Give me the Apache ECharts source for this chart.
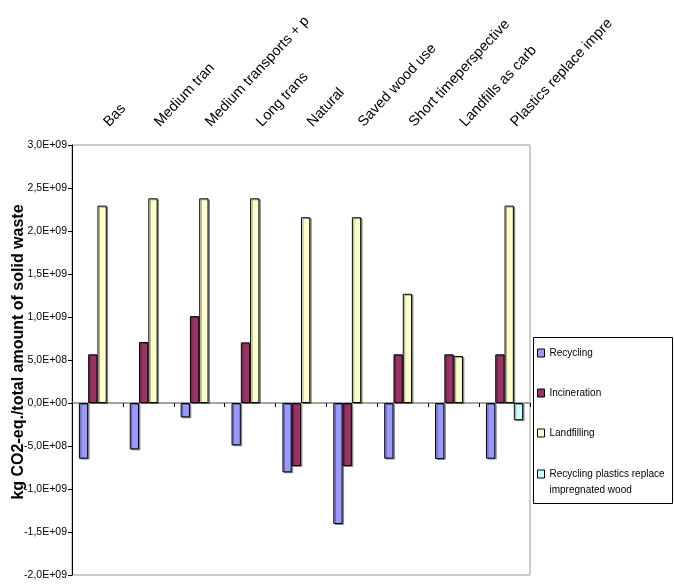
<!DOCTYPE html>
<html>
<head>
<meta charset="utf-8">
<script src="https://cdn.jsdelivr.net/npm/echarts@6/dist/echarts.min.js"></script>
<style>
  html, body { margin: 0; padding: 0; background: #fff; }
  #chart { width: 674px; height: 586px; }
</style>
</head>
<body>
<div id="chart"></div>
<script>
// Scenario labels shown along the top of the plot
const categories = [
  'Bas', 'Medium tran', 'Medium transports + p', 'Long trans', 'Natural',
  'Saved wood use', 'Short timeperspective', 'Landfills as carb', 'Plastics replace impre'
];

// kg CO2-eq. per total amount of solid waste
const recycling = [-6.47e8, -5.39e8, -1.67e8, -4.92e8, -8.06e8, -1.407e9, -6.47e8, -6.51e8, -6.47e8];
const incineration = [5.66e8, 7.09e8, 1.01e9, 7.05e8, -7.33e8, -7.33e8, 5.66e8, 5.66e8, 5.66e8];
const landfilling = [2.295e9, 2.38e9, 2.38e9, 2.38e9, 2.16e9, 2.16e9, 1.27e9, 5.47e8, 2.295e9];
const recyclingPlastics = [null, null, null, null, null, null, null, null, -2.0e8];

const seriesNames = ['Recycling', 'Incineration', 'Landfilling', 'Recycling plastics replace impregnated wood'];
const seriesColors = ['#9999FF', '#993366', '#FFFFCC', '#CCFFFF'];

const FONT = "'Liberation Sans', Arial, sans-serif";

// "3,0E+09" style labels with a comma as decimal separator
function sci(v) {
  if (v === 0) return '0,0E+00';
  const a = Math.abs(v);
  const e = Math.floor(Math.log10(a) + 1e-9);
  const m = v / Math.pow(10, e);
  const s = m.toFixed(1).replace('.', ',');
  const es = (e < 0 ? '-' : '+') + String(Math.abs(e)).padStart(2, '0');
  return s + 'E' + es;
}

const chart = echarts.init(document.getElementById('chart'), null, { renderer: 'canvas' });

const barStyle = (color) => ({
  color: color,
  borderColor: '#000',
  borderWidth: 1,
  shadowColor: 'rgba(0,0,0,0.35)',
  shadowOffsetX: 1.5,
  shadowOffsetY: 1,
  shadowBlur: 0
});

const dataSets = [recycling, incineration, landfilling, recyclingPlastics];

const legendItemStyle = { borderColor: '#000', borderWidth: 1, shadowColor: 'transparent' };
const legendText = { fontFamily: FONT, fontSize: 10, color: '#000' };

const option = {
  backgroundColor: '#fff',
  animation: false,
  textStyle: { fontFamily: FONT },
  grid: {
    left: 72, top: 145, right: 144, bottom: 11,
    outerBoundsMode: 'none',
    containLabel: false,
    show: true, borderColor: '#999', borderWidth: 1, backgroundColor: 'transparent'
  },
  // Frame around both legend blocks
  graphic: [{
    type: 'rect',
    left: 533, top: 337,
    shape: { width: 139, height: 166 },
    style: { fill: 'transparent', stroke: '#000', lineWidth: 1 },
    silent: true
  }],
  legend: [
    {
      orient: 'vertical',
      left: 537, top: 348,
      padding: 0,
      itemWidth: 7, itemHeight: 8, itemGap: 30,
      icon: 'rect',
      selectedMode: false,
      itemStyle: legendItemStyle,
      textStyle: legendText,
      data: seriesNames.slice(0, 3)
    },
    {
      orient: 'vertical',
      left: 537, top: 450,
      padding: 0,
      itemWidth: 7, itemHeight: 8,
      icon: 'rect',
      selectedMode: false,
      itemStyle: legendItemStyle,
      textStyle: Object.assign({ lineHeight: 16 }, legendText),
      // leading blank line keeps the swatch level with the first text line
      formatter: () => '\nRecycling plastics replace\nimpregnated wood',
      data: [seriesNames[3]]
    }
  ],
  xAxis: [
    {
      type: 'category',
      position: 'top',
      data: categories,
      axisLine: { show: false, onZero: false },
      axisTick: { show: false },
      axisLabel: {
        rotate: -47, margin: 11, fontSize: 14.5, color: '#000', fontFamily: FONT,
        interval: 0, padding: [0, 0, 0, 13]
      }
    },
    {
      type: 'category',
      position: 'bottom',
      data: categories,
      axisLine: { show: true, onZero: true, lineStyle: { color: '#888', width: 1.5 } },
      axisTick: { show: true, interval: 0, length: 4, lineStyle: { color: '#000', width: 1 } },
      axisLabel: { show: false, interval: 0 }
    }
  ],
  yAxis: {
    type: 'value',
    min: -2e9, max: 3e9, interval: 5e8,
    name: 'kg CO2-eq./total amount of solid waste',
    nameLocation: 'middle',
    nameRotate: 90,
    nameGap: 45,
    nameMoveOverlap: false,
    nameTextStyle: {
      fontFamily: FONT, fontSize: 16, fontWeight: 'bold', color: '#000',
      padding: [0, 0, 0, 16]
    },
    axisLine: { show: true, lineStyle: { color: '#000', width: 1 } },
    axisTick: { show: true, length: 4, lineStyle: { color: '#000' } },
    splitLine: { show: false },
    axisLabel: { formatter: sci, fontSize: 10.5, color: '#000', fontFamily: FONT, margin: 5 }
  },
  series: dataSets.map((d, i) => ({
    name: seriesNames[i],
    type: 'bar',
    xAxisIndex: 0,
    data: d,
    barGap: '0%',
    barCategoryGap: '27%',
    itemStyle: barStyle(seriesColors[i])
  }))
};

chart.setOption(option);
</script>
</body>
</html>
